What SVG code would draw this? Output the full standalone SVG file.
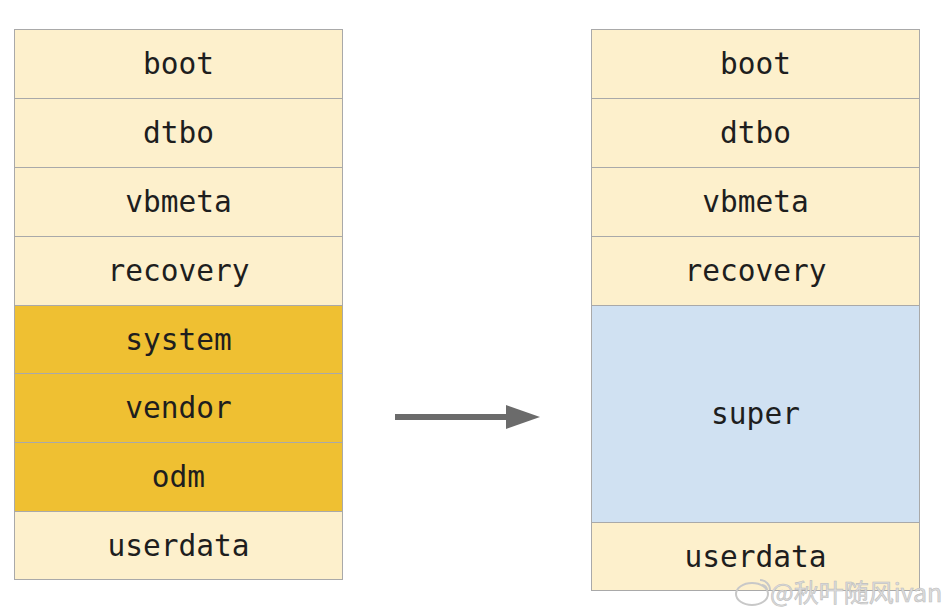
<svg xmlns="http://www.w3.org/2000/svg" width="944" height="610" viewBox="0 0 944 610">
<style>
.c{stroke:#a9a9a9;stroke-width:1}
.l{fill:#fdf0cc}
.g{fill:#efc032}
.b{fill:#d0e1f2}
.t{font-family:"DejaVu Sans Mono","Liberation Mono",monospace;font-size:29.5px;fill:#1e1e1e;text-anchor:middle}
.w{font-family:"Noto Sans CJK SC","Noto Sans",sans-serif;font-size:25px;fill:#dcdcdc;stroke:#bdbdbd;stroke-width:0.6}
</style>
<defs>
<marker id="ah" markerWidth="34" markerHeight="24" refX="2" refY="12" orient="auto" markerUnits="userSpaceOnUse">
<path d="M0,0 L34,12 L0,24 Z" fill="#6b6b6b"/>
</marker>
</defs>
<rect width="944" height="610" fill="#ffffff"/>
<g id="left">
<g id="l-boot"><rect class="c l" x="14.5" y="29.5" width="328" height="69"/><text class="t" x="178.5" y="74">boot</text></g>
<g id="l-dtbo"><rect class="c l" x="14.5" y="98.5" width="328" height="69"/><text class="t" x="178.5" y="143">dtbo</text></g>
<g id="l-vbmeta"><rect class="c l" x="14.5" y="167.5" width="328" height="69"/><text class="t" x="178.5" y="212">vbmeta</text></g>
<g id="l-recovery"><rect class="c l" x="14.5" y="236.5" width="328" height="69"/><text class="t" x="178.5" y="281">recovery</text></g>
<g id="l-system"><rect class="c g" x="14.5" y="305.5" width="328" height="68"/><text class="t" x="178.5" y="350">system</text></g>
<g id="l-vendor"><rect class="c g" x="14.5" y="373.5" width="328" height="69"/><text class="t" x="178.5" y="418">vendor</text></g>
<g id="l-odm"><rect class="c g" x="14.5" y="442.5" width="328" height="69"/><text class="t" x="178.5" y="487">odm</text></g>
<g id="l-userdata"><rect class="c l" x="14.5" y="511.5" width="328" height="68"/><text class="t" x="178.5" y="556">userdata</text></g>
</g>
<g id="right">
<g id="r-boot"><rect class="c l" x="591.5" y="29.5" width="328" height="69"/><text class="t" x="755.5" y="74">boot</text></g>
<g id="r-dtbo"><rect class="c l" x="591.5" y="98.5" width="328" height="69"/><text class="t" x="755.5" y="143">dtbo</text></g>
<g id="r-vbmeta"><rect class="c l" x="591.5" y="167.5" width="328" height="69"/><text class="t" x="755.5" y="212">vbmeta</text></g>
<g id="r-recovery"><rect class="c l" x="591.5" y="236.5" width="328" height="69"/><text class="t" x="755.5" y="281">recovery</text></g>
<g id="r-super"><rect class="c b" x="591.5" y="305.5" width="328" height="217"/><text class="t" x="755.5" y="424">super</text></g>
<g id="r-userdata"><rect class="c l" x="591.5" y="522.5" width="328" height="68"/><text class="t" x="755.5" y="567">userdata</text></g>
</g>
<g id="connectors">
<line x1="395" y1="417" x2="508" y2="417" stroke="#6b6b6b" stroke-width="6" marker-end="url(#ah)"/>
</g>
<g id="watermark">
<ellipse cx="752" cy="594" rx="16" ry="11" fill="none" stroke="#c8c8c8" stroke-width="2"/>
<path d="M760,580 a10,10 0 0 1 10,10 M762,585 a5,5 0 0 1 5,5" fill="none" stroke="#c8c8c8" stroke-width="2"/>
<text class="w" x="770" y="602">@秋叶随风ivan</text>
</g>
</svg>
